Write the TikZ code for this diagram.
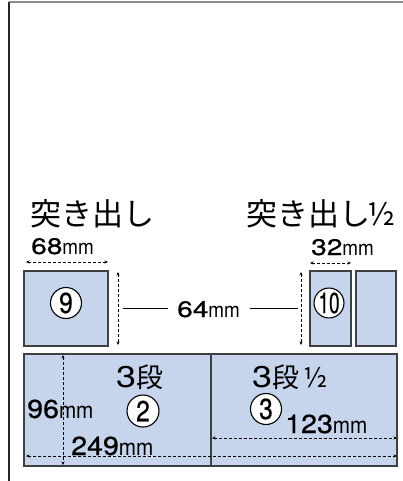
\documentclass[tikz,border=0pt]{standalone}
\usepackage{fontspec}
\setmainfont{TeX Gyre Heros}
\newfontfamily\jpfont{Noto Sans CJK JP}
\newfontfamily\numfont[FakeStretch=1.25,FakeBold=0.6]{TeX Gyre Heros}
\newfontfamily\bignumfont[FakeStretch=1.1,FakeBold=0.6]{TeX Gyre Heros}
\newfontfamily\mmfont[FakeStretch=0.9]{TeX Gyre Heros}
\newfontfamily\circfont[FakeStretch=0.85,FakeBold=0.4]{TeX Gyre Heros}
\newfontfamily\tencircfont[FakeStretch=0.66,FakeBold=0.4]{TeX Gyre Heros}
\newfontfamily\threefont[FakeStretch=1.2]{TeX Gyre Heros}
\usetikzlibrary{arrows.meta}

\definecolor{panelblue}{HTML}{C6D4EC}
\definecolor{framegray}{HTML}{8C8C8C}

\tikzset{
  panel/.style={draw=black!75, fill=panelblue, line width=1.2pt},
  dimline/.style={densely dashed, line width=0.8pt, {Stealth[length=3.5pt,width=3pt]}-{Stealth[length=3.5pt,width=3pt]}},
  numcircle/.style={circle, draw, fill=white, line width=1.1pt, inner sep=0pt, minimum size=31pt, font=\circfont\fontsize{29}{29}\selectfont},
  title/.style={inner sep=0pt, font=\jpfont\fontsize{31}{31}\selectfont},
  subtitle/.style={inner sep=0pt, anchor=base west, font=\jpfont\fontsize{27}{27}\selectfont},
  dimtext/.style={inner sep=0pt, anchor=base west, font=\numfont\fontsize{22.5}{23}\selectfont},
  bigdimtext/.style={inner sep=0pt, anchor=base west, font=\bignumfont\fontsize{26}{26}\selectfont},
}
\newcommand{\unitmm}{{\mmfont\fontsize{21}{21}\selectfont mm}}
\newcommand{\bigunitmm}{{\mmfont\fontsize{23}{23}\selectfont mm}}
\newcommand{\three}{{\threefont\fontsize{30}{30}\selectfont 3}}

\begin{document}
\begin{tikzpicture}[x=1pt,y=-1pt]
\useasboundingbox (0,0) rectangle (403,481);

% page frame
\draw[framegray, line width=1.2pt] (9,2) -- (403,2);
\draw[black!85, line width=1.6pt] (9,2) -- (9,481);

% top row
\draw[panel] (24,271) rectangle (108,346);
\draw[panel] (310,271) rectangle (351,346);
\draw[panel] (356,271) rectangle (396,346);
\node[numcircle] (n9) at (66,303) {9};
\node[numcircle, minimum size=29pt, font=\tencircfont\fontsize{29}{29}\selectfont] (n10) at (329,303) {10};

\node[title] (t1) at (92.5,214) {突き出し};
\node[title, anchor=east] (t2) at (396,214) {突き出し\kern-3pt½};
\node[dimtext] (w68) at (31,254) {68\unitmm};
\node[dimtext] (w32) at (311,255) {32\unitmm};
\node[dimtext] (h64) at (177,317) {64\unitmm};

\draw[dimline] (26,262) -- (108,262);
\draw[dimline] (310,263) -- (351,263);
\draw[dimline] (118,272) -- (118,345);
\draw[dimline] (301,272) -- (301,345);
\draw[line width=0.8pt] (123,308) -- (168,308);
\draw[line width=0.8pt] (250,308) -- (298,308);

% bottom row
\draw[panel] (24,354) rectangle (397,466);
\draw[black!75, line width=1.2pt] (211,354) -- (211,466);

\node[subtitle] (d3) at (116,387) {\three 段};
\node[subtitle] (d35) at (252,387) {\three 段\hspace{4pt}½};
\node[numcircle, minimum size=32pt] (n2) at (143,411) {2};
\node[numcircle] (n3) at (266,409) {3};

\draw[dimline] (63,355) -- (63,465);
\draw[dimline] (26,456) -- (397,456);
\draw[dimline] (212,438) -- (397,438);

\node[bigdimtext] (h96) at (27,418) {96\bigunitmm};
\node[bigdimtext] (w249) at (71,455) {249\bigunitmm};
\node[bigdimtext] (w123) at (285,433) {123\bigunitmm};

\end{tikzpicture}
\end{document}
